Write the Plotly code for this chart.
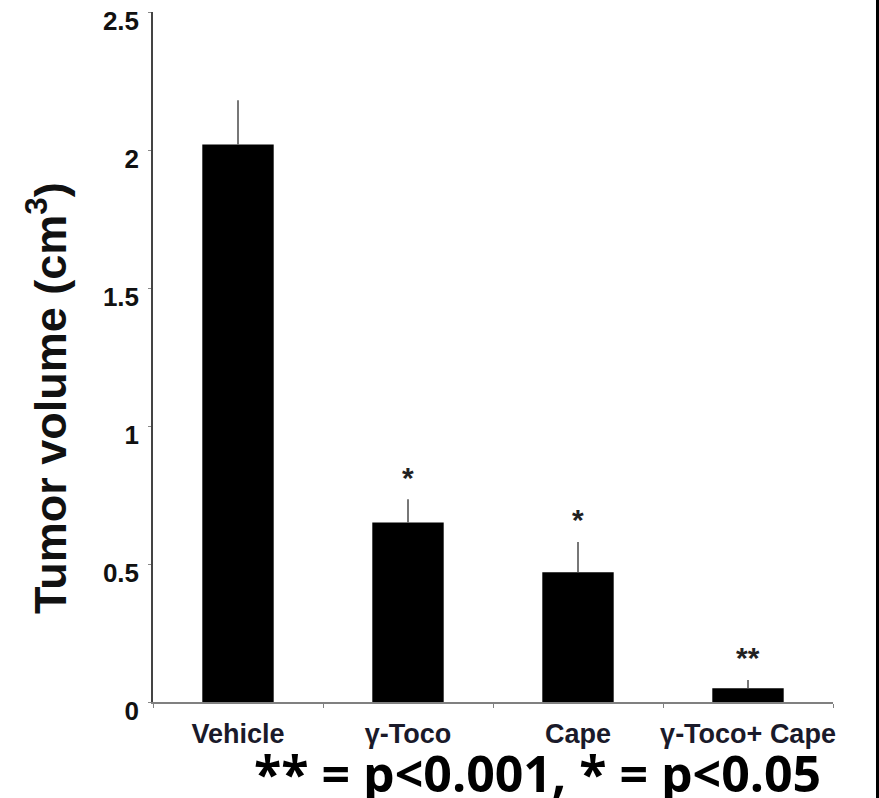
import plotly.graph_objects as go

categories = ["Vehicle", "γ-Toco", "Cape", "γ-Toco+ Cape"]
tumor_volume = [2.02, 0.65, 0.47, 0.05]
error_upper = [0.16, 0.085, 0.11, 0.03]
significance = ["", "*", "*", "**"]
y_ticks = [0, 0.5, 1, 1.5, 2, 2.5]
y_tick_labels = ["0", "0.5", "1", "1.5", "2", "2.5"]
footnote = "** = p<0.001, * = p<0.05"
y_title = "Tumor volume (cm<sup>3</sup>)"

W, H = 879, 798
L, R, T, B = 153, 46, 12, 96
PW, PH = W - L - R, H - T - B

arial = "Liberation Sans, Arial, sans-serif"

fig = go.Figure()
fig.add_trace(go.Bar(
    x=categories,
    y=tumor_volume,
    marker=dict(color="black", line=dict(width=0)),
    error_y=dict(type="data", symmetric=False, array=error_upper,
                 arrayminus=[0] * len(error_upper),
                 color="#555555", thickness=1.6, width=0),
    showlegend=False,
    hoverinfo="skip",
))

for cat, v, e, s in zip(categories, tumor_volume, error_upper, significance):
    if s:
        fig.add_annotation(x=cat, y=v + e, xref="x", yref="y", text="<b>" + s + "</b>",
                           showarrow=False, yanchor="middle", yshift=22,
                           font=dict(family=arial, size=30, color="#222222"))

fig.add_annotation(text="<b>" + footnote + "</b>", xref="paper", yref="paper",
                   x=(537 - L) / PW, y=-(773 - (H - B)) / PH,
                   xanchor="center", yanchor="middle", showarrow=False,
                   font=dict(family="Open Sans, sans-serif", size=50, color="black"))

fig.add_annotation(text="<b>" + y_title + "</b>", xref="paper", yref="paper",
                   x=(47 - L) / PW, y=((H - B) - 398) / PH, textangle=-90,
                   xanchor="center", yanchor="middle", showarrow=False,
                   font=dict(family=arial, size=45, color="#111111"))

# right frame line
fig.add_shape(type="line", xref="paper", yref="paper",
              x0=(877.5 - L) / PW, x1=(877.5 - L) / PW,
              y0=-(B + 5) / PH, y1=1 + (T + 5) / PH,
              line=dict(color="black", width=3))

fig.update_layout(
    width=W, height=H,
    margin=dict(l=L, r=R, t=T, b=B, autoexpand=False),
    paper_bgcolor="white", plot_bgcolor="white",
    bargap=0.58,
    font=dict(family=arial, color="#111111"),
)
fig.update_xaxes(
    showline=True, linecolor="#808080", linewidth=1.5,
    ticks="outside", tickson="boundaries", ticklen=4, tickcolor="#808080",
    tickangle=0, ticklabelstandoff=7,
    tickfont=dict(family=arial, size=27, color="#1a1a2a", weight="bold"),
    showgrid=False, zeroline=False, fixedrange=True,
)
fig.update_yaxes(
    range=[0, 2.5001], tickvals=y_ticks, ticktext=y_tick_labels,
    showline=True, linecolor="#444444", linewidth=1.5,
    ticks="outside", ticklen=3, tickcolor="#888888",
    ticklabelshift=9, ticklabelstandoff=4, ticklabeloverflow="allow",
    tickfont=dict(family=arial, size=26, color="#111111", weight="bold"),
    showgrid=False, zeroline=False, fixedrange=True,
)

fig.write_html("out.html")
